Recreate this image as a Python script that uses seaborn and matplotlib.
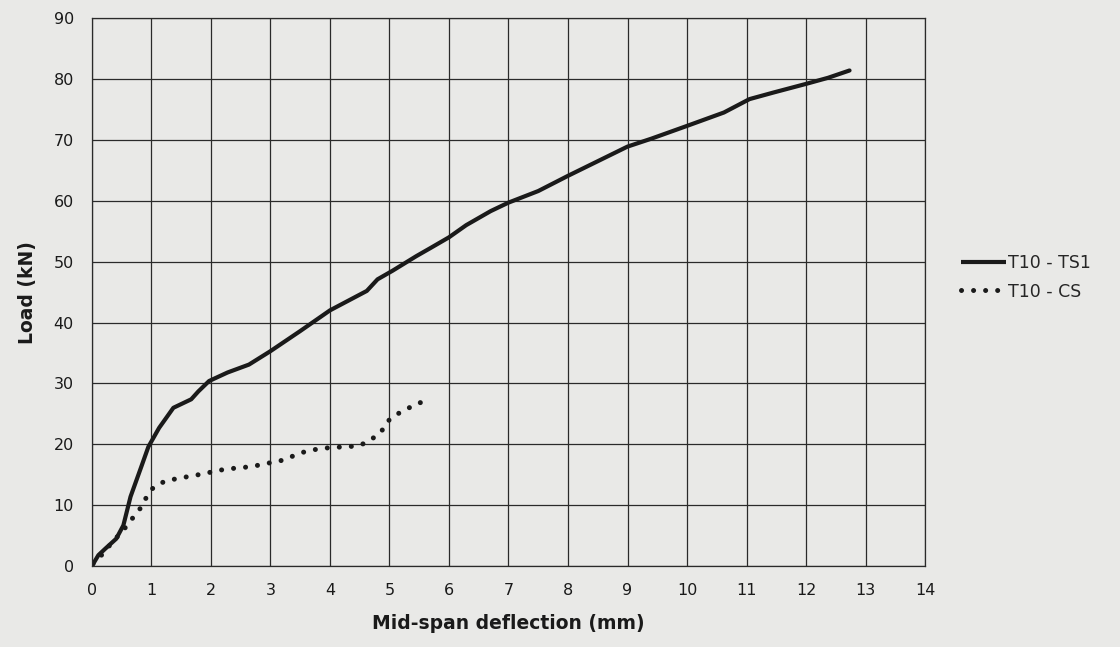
import matplotlib
matplotlib.use("Agg")
from matplotlib import pyplot as plt
import pandas as pd
import seaborn as sns

# * Data
ts1_x = [0.0, 0.11, 0.23, 0.41, 0.53, 0.65, 0.83, 0.95, 1.13, 1.37, 1.67, 1.79, 1.97,
         2.28, 2.64, 3.0, 3.5, 4.0, 4.62, 4.8, 5.05, 5.45, 5.7, 6.0, 6.29, 6.7, 7.0,
         7.5, 8.0, 8.5, 9.0, 9.4, 10.0, 10.62, 11.05, 11.46, 12.0, 12.37, 12.73]
ts1_y = [0.0, 1.8, 2.9, 4.5, 6.7, 11.4, 16.3, 19.6, 22.7, 26.0, 27.4, 28.7, 30.4,
         31.8, 33.1, 35.3, 38.6, 42.0, 45.2, 47.1, 48.5, 50.9, 52.3, 54.0, 56.0, 58.3, 59.7,
         61.6, 64.1, 66.5, 68.9, 70.2, 72.3, 74.5, 76.7, 77.8, 79.2, 80.2, 81.4]

cs_x = [0.02, 0.11, 0.23, 0.35, 0.5, 0.62, 0.73, 0.85, 0.92, 1.04, 1.24, 1.45, 1.67,
        1.9, 2.11, 2.32, 2.55, 2.76, 3.21, 3.41, 3.61, 3.84, 4.05, 4.29, 4.5, 4.68,
        4.86, 4.95, 5.08, 5.29, 5.47, 5.7]
cs_y = [0.4, 1.2, 2.6, 4.0, 5.6, 7.0, 8.5, 9.9, 11.4, 13.0, 14.0, 14.4, 14.8,
        15.2, 15.7, 16.0, 16.2, 16.5, 17.4, 18.2, 18.9, 19.3, 19.5, 19.6, 19.8, 20.7,
        22.0, 23.6, 24.7, 25.8, 26.7, 27.4]

series_names = ["T10 - TS1", "T10 - CS"]
x_ticks = list(range(0, 15))
y_ticks = list(range(0, 91, 10))

# * Build long-form table for seaborn
df = pd.DataFrame({
    "x": ts1_x + cs_x,
    "y": ts1_y + cs_y,
    "series": [series_names[0]] * len(ts1_x) + [series_names[1]] * len(cs_x),
})

# * Style
sns.set_style("white")
plt.rcParams["font.family"] = ["DejaVu Sans"]
bg = "#e9e9e7"
ink = "#1a1a1a"
dot_pattern = (0.01, 2.4)

fig = plt.figure(figsize=(11.2, 6.47), dpi=100, facecolor=bg)
ax = fig.add_axes([0.082, 0.125, 0.744, 0.847])
ax.set_facecolor(bg)

sns.lineplot(data=df, x="x", y="y", hue="series", style="series",
             palette={series_names[0]: ink, series_names[1]: ink},
             dashes={series_names[0]: "", series_names[1]: dot_pattern},
             linewidth=3.0, sort=False, estimator=None, ax=ax, legend=False)

# the dotted series gets fatter, round dots
for line in ax.lines:
    line.set_dash_capstyle("round")
    line.set_solid_capstyle("round")
    if line.get_linestyle() != "-":
        line.set_linewidth(3.6)

# * Axes, grid and ticks
ax.set_xlim(0, 14)
ax.set_ylim(0, 90)
ax.set_xticks(x_ticks)
ax.set_yticks(y_ticks)
ax.grid(True, color="#2a2a2a", linewidth=0.9)
for s in ax.spines.values():
    s.set_color("#2a2a2a")
    s.set_linewidth(0.9)
ax.tick_params(axis="both", length=5, width=0.9, color="#2a2a2a",
               labelsize=11.5, labelcolor=ink)
ax.tick_params(axis="x", pad=7)
ax.tick_params(axis="y", pad=8)

ax.set_xlabel("Mid-span deflection (mm)", fontsize=13.5, fontweight="bold",
              color=ink, labelpad=12)
ax.set_ylabel("Load (kN)", fontsize=13.5, fontweight="bold", color=ink, labelpad=12)

# * Legend outside right
handles = [plt.Line2D([], [], color=ink, linewidth=3.0, solid_capstyle="butt"),
           plt.Line2D([], [], color=ink, linewidth=3.6, linestyle=(0, dot_pattern),
                      dash_capstyle="round")]
ax.legend(handles, series_names, loc="center left", bbox_to_anchor=(1.035, 0.527),
          frameon=False, fontsize=12.5, handlelength=2.6, handletextpad=0.1,
          labelspacing=0.6, borderaxespad=0)

fig.savefig("out.png", dpi=100, facecolor=bg)
